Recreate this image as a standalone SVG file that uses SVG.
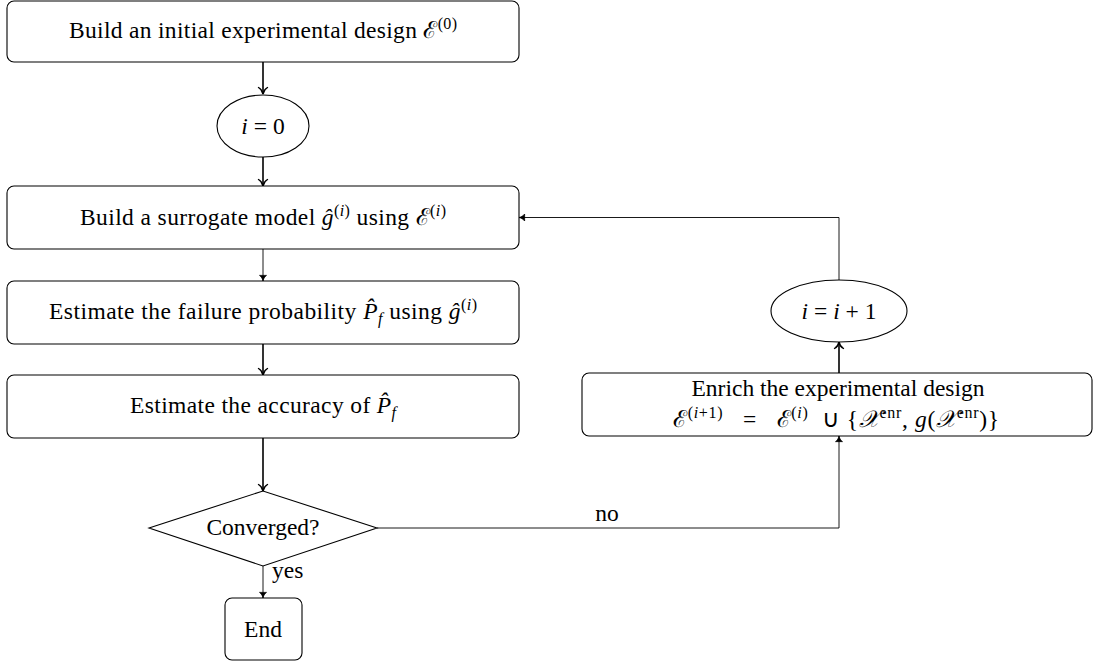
<svg xmlns="http://www.w3.org/2000/svg" width="1094" height="664" viewBox="0 0 1094 664">
<style>
text{font-family:'Liberation Serif','Times New Roman',serif;font-size:23.5px;fill:#000;text-anchor:middle}
.i{font-style:italic}
.s{font-size:16px}
.box{fill:#fff;stroke:#000;stroke-width:1.1}
.thick{fill:none;stroke:#000;stroke-width:1.6}
.thin{fill:none;stroke:#000;stroke-width:0.9}
.lbl{text-anchor:start}
</style>
<defs>
<marker id="ak" markerUnits="userSpaceOnUse" markerWidth="12" markerHeight="12" viewBox="-8 -6 10 12" refX="0" refY="0" orient="auto">
<path d="M-6.5,-4.5 C-5,-1.8 -2,-0.4 0,0 C-2,0.4 -5,1.8 -6.5,4.5" fill="none" stroke="#000" stroke-width="1.4" stroke-linecap="round"/>
</marker>
<marker id="an" markerUnits="userSpaceOnUse" markerWidth="10" markerHeight="10" viewBox="-6 -4 7 8" refX="0" refY="0" orient="auto">
<path d="M-4.5,-2.8 C-3.5,-1.2 -1.5,-0.3 0,0 C-1.5,0.3 -3.5,1.2 -4.5,2.8 Z" fill="#000" stroke="#000" stroke-width="0.6"/>
</marker>
</defs>
<g id="connectors">
<line class="thick" x1="263" y1="62" x2="263" y2="94" marker-end="url(#ak)"/>
<line class="thick" x1="263" y1="157" x2="263" y2="186" marker-end="url(#ak)"/>
<line class="thin" x1="263" y1="249" x2="263" y2="281" marker-end="url(#an)"/>
<line class="thick" x1="263" y1="344" x2="263" y2="375" marker-end="url(#ak)"/>
<line class="thick" x1="263" y1="438" x2="263" y2="491" marker-end="url(#ak)"/>
<line class="thin" x1="263" y1="566" x2="263" y2="598" marker-end="url(#an)"/>
<polyline class="thin" points="377,528 839,528 839,436" marker-end="url(#an)"/>
<line class="thick" x1="839" y1="373" x2="839" y2="342" marker-end="url(#ak)"/>
<polyline class="thin" points="839,280 839,217.5 519,217.5" marker-end="url(#an)"/>
<text class="lbl" x="272" y="578">yes</text>
<text x="607" y="521">no</text>
</g>
<g id="n-init">
<rect class="box" x="7" y="1" width="512" height="61" rx="7"/>
<text x="263" y="38" textLength="388" lengthAdjust="spacing">Build an initial experimental design ℰ<tspan class="s" dy="-9">(0)</tspan></text>
</g>
<g id="n-i0">
<ellipse class="box" cx="263" cy="126" rx="46" ry="31"/>
<text x="263" y="134"><tspan class="i">i</tspan> = 0</text>
</g>
<g id="n-surrogate">
<rect class="box" x="7" y="186" width="512" height="63" rx="7"/>
<text x="263" y="225" textLength="366" lengthAdjust="spacing">Build a surrogate model <tspan class="i">ĝ</tspan><tspan class="s" dy="-9">(<tspan class="i">i</tspan>)</tspan><tspan dy="9"> using ℰ</tspan><tspan class="s" dy="-9">(<tspan class="i">i</tspan>)</tspan></text>
</g>
<g id="n-estimate">
<rect class="box" x="7" y="281" width="512" height="63" rx="7"/>
<text x="263" y="319" textLength="428" lengthAdjust="spacing">Estimate the failure probability <tspan class="i">P̂</tspan><tspan class="s i" dy="5">f</tspan><tspan dy="-5"> using </tspan><tspan class="i">ĝ</tspan><tspan class="s" dy="-9">(<tspan class="i">i</tspan>)</tspan></text>
</g>
<g id="n-accuracy">
<rect class="box" x="7" y="375" width="512" height="63" rx="7"/>
<text x="263" y="413" textLength="266" lengthAdjust="spacing">Estimate the accuracy of <tspan class="i">P̂</tspan><tspan class="s i" dy="5">f</tspan></text>
</g>
<g id="n-converged">
<polygon class="box" points="149,528 263,491 377,528 263,566"/>
<text x="263" y="535">Converged?</text>
</g>
<g id="n-end">
<rect class="box" x="225" y="598" width="77" height="62" rx="7"/>
<text x="263" y="637">End</text>
</g>
<g id="n-inc">
<ellipse class="box" cx="839" cy="311" rx="68" ry="31"/>
<text x="839" y="319"><tspan class="i">i</tspan> = <tspan class="i">i</tspan> + 1</text>
</g>
<g id="n-enrich">
<rect class="box" x="582" y="373" width="510" height="63" rx="7"/>
<text x="838" y="396">Enrich the experimental design</text>
<text x="836" y="427" textLength="326" lengthAdjust="spacing">ℰ<tspan class="s" dy="-9">(<tspan class="i">i</tspan>+1)</tspan><tspan dy="9">&#160;&#160;&#160;=&#160;&#160;&#160;ℰ</tspan><tspan class="s" dy="-9">(<tspan class="i">i</tspan>)</tspan><tspan dy="9">&#160;&#160;∪&#160;{</tspan><tspan class="i">𝒳</tspan><tspan class="s" dy="-9">enr</tspan><tspan dy="9">, </tspan><tspan class="i">g</tspan>(<tspan class="i">𝒳</tspan><tspan class="s" dy="-9">enr</tspan><tspan dy="9">)}</tspan></text>
</g>
</svg>
